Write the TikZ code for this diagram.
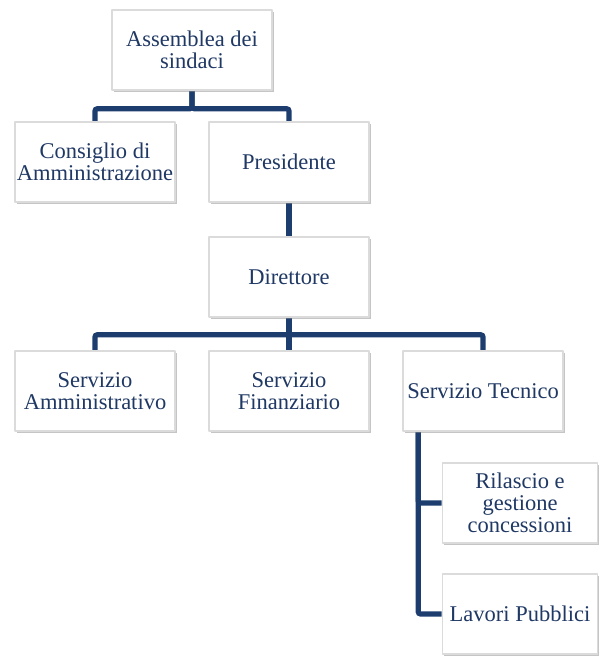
\documentclass[tikz,border=0pt]{standalone}
\usepackage{fontspec}
\setmainfont{Liberation Serif}
\usetikzlibrary{shadows,backgrounds}
\definecolor{orgtext}{RGB}{31,56,100}
\definecolor{orgline}{RGB}{28,61,110}
\tikzset{
    orgbox/.style={draw=black!14, line width=1.1pt, fill=white, align=center,
        minimum width=4cm, minimum height=2cm, inner sep=1pt, text=orgtext,
        font=\fontsize{16}{15.8}\selectfont,
        drop shadow={shadow xshift=1.1pt, shadow yshift=-1.1pt, opacity=0.5, fill=black!45}},
    conn/.style={draw=orgline, line width=3.6pt, rounded corners=1.5pt}
}

\begin{document}
\begin{tikzpicture}[line join = round]
    \useasboundingbox (0,0) rectangle (14.975,16.4);
    \node[orgbox] (assemblea) at (4.8,15.15) {Assemblea dei\\sindaci};
    \node[orgbox] (consiglio) at (2.375,12.35) {Consiglio di\\Amministrazione};
    \node[orgbox] (presidente) at (7.225,12.35) {Presidente};
    \node[orgbox] (direttore) at (7.225,9.475) {Direttore};
    \node[orgbox] (amministrativo) at (2.375,6.625) {Servizio\\Amministrativo};
    \node[orgbox] (finanziario) at (7.225,6.625) {Servizio\\Finanziario};
    \node[orgbox] (tecnico) at (12.075,6.625) {Servizio Tecnico};
    \node[orgbox, minimum width=3.875cm] (rilascio) at (13.0,3.825) {Rilascio e\\gestione\\concessioni};
    \node[orgbox, minimum width=3.875cm] (lavori) at (13.0,1.05) {Lavori Pubblici};

    % connectors behind the boxes
    \begin{scope}[on background layer]
        \draw[conn] (assemblea.south) -- ++(0,-0.45) -| (consiglio.north);
        \draw[conn] (assemblea.south) -- ++(0,-0.45) -| (presidente.north);
        \draw[conn] (presidente.south) -- (direttore.north);
        \draw[conn] (direttore.south) -- ++(0,-0.425) -| (amministrativo.north);
        \draw[conn] (direttore.south) -- ++(0,-0.425) -| (tecnico.north);
        \draw[conn] (direttore.south) -- (finanziario.north);
        \coordinate (tbus) at ([xshift=0.4cm]tecnico.south west);
        \draw[conn] (tbus) |- (rilascio.west);
        \draw[conn] (tbus) |- (lavori.west);
    \end{scope}

\end{tikzpicture}
\end{document}
